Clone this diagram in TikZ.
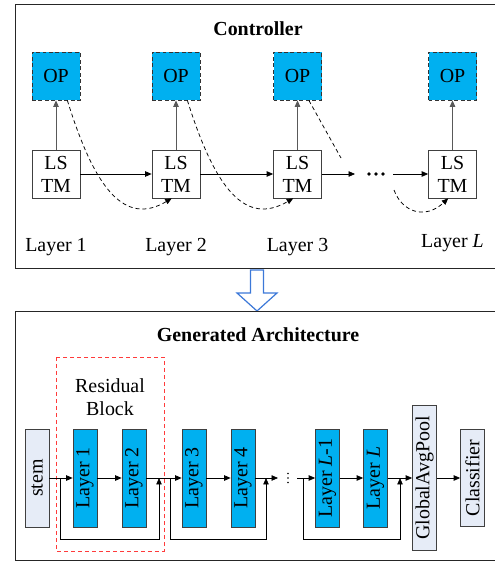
\documentclass[tikz,border=0pt]{standalone}
\usepackage{fontspec}
\setmainfont{Liberation Serif}
\usetikzlibrary{arrows.meta}
\definecolor{opblue}{HTML}{00B0F0}
\definecolor{boxgray}{HTML}{E6ECF7}
\definecolor{hollowblue}{HTML}{3C78D8}
\definecolor{resred}{HTML}{FF3B3B}

\begin{document}
\begin{tikzpicture}[x=1bp, y=-1bp, line width=0.75pt, >={Triangle[length=6.5pt,width=5.5pt]},
        font=\fontsize{20}{23}\selectfont,
        op/.style={draw=black!80, dash pattern=on 4pt off 2.5pt, fill=opblue, minimum size=48bp, inner sep=0pt},
        lstm/.style={draw=black!75, fill=white, minimum size=48bp, inner sep=0pt, align=center},
        layer/.style={draw=black!75, fill=opblue, rotate=90, minimum width=98bp, minimum height=24bp, inner sep=0pt},
        plain/.style={draw=black!75, fill=boxgray, rotate=90, minimum height=24bp, inner sep=0pt},
        dashline/.style={dash pattern=on 4pt off 3pt},
        frame/.style={draw=black!85}]
        \useasboundingbox (0,0) rectangle (495,561);

        % controller
        \draw[frame] (15,4) rectangle (497,268);
        \node (ctl) at (258,29) {\bfseries Controller};

        \node[op] (op1) at (56,76) {OP};
        \node[op] (op2) at (176,76) {OP};
        \node[op] (op3) at (297.5,76) {OP};
        \node[op] (op4) at (452.5,76) {OP};
        \node[lstm] (ls1) at (56,174) {LS\\TM};
        \node[lstm] (ls2) at (176,174) {LS\\TM};
        \node[lstm] (ls3) at (297.5,174) {LS\\TM};
        \node[lstm] (ls4) at (452.5,174) {LS\\TM};

        \node (lab1) at (56,247) {Layer 1};
        \node (lab2) at (176,247) {Layer 2};
        \node (lab3) at (297.5,247) {Layer 3};
        \node (lab4) at (452.5,243) {Layer \textit{L}};

        \draw[->, black!65] (ls1) -- (op1);
        \draw[->, black!65] (ls2) -- (op2);
        \draw[->, black!65] (ls3) -- (op3);
        \draw[->, black!65] (ls4) -- (op4);

        \coordinate (d1) at (355,174);
        \coordinate (d2) at (393,174);
        \node (dots) at (376,174) {};
        \foreach \dx in {-7,0,7}
          \fill ([xshift=\dx bp]dots.center) circle (1.8pt);
        \draw[->] (ls1) -- (ls2);
        \draw[->] (ls2) -- (ls3);
        \draw[->] (ls3) -- (d1);
        \draw[->] (d2) -- (ls4);

        \coordinate (e3) at (341,158);
        \coordinate (e4) at (394,190);
        \draw[->, dashline] (op1.-65) .. controls (95,190) and (125,226) .. (ls2.-100);
        \draw[->, dashline] (op2.-65) .. controls (215.5,190) and (245.5,226) .. (ls3.-100);
        \draw[dashline] (op3.-65) -- (e3);
        \draw[->, dashline] (e4) .. controls (402,212) and (425,220) .. (ls4.-100);

        % arrow between panels
        \draw[hollowblue, line width=1.2pt, fill=white] (250.5,270) -- (263.5,270) -- (263.5,293)
          -- (277,293) -- (257,311) -- (237,293) -- (250.5,293) -- cycle;

        % generated architecture
        \draw[frame] (15,311) rectangle (497,560);
        \node (gen) at (258,335) {\bfseries Generated Architecture};
        \draw[resred, dashline] (56,357) rectangle (164,551);
        \node[align=center] (res) at (110,397) {Residual\\Block};

        \node[plain, minimum width=98bp] (stem) at (37,478) {stem};
        \node[layer] (l1) at (85,478) {Layer 1};
        \node[layer] (l2) at (134,478) {Layer 2};
        \node[layer] (l3) at (194,478) {Layer 3};
        \node[layer] (l4) at (243,478) {Layer 4};
        \node[layer] (lm) at (327.5,478) {Layer \textit{L}-1};
        \node[layer] (ll) at (375.5,478) {Layer \textit{L}};
        \node[plain, minimum width=145bp] (gap) at (424.5,478) {GlobalAvgPool};
        \node[plain, minimum width=97bp] (cls) at (472.5,478) {Classifier};

        \coordinate (d3) at (278,478);
        \coordinate (d4) at (297,478);
        \node (vd) at (288,478) {};
        \foreach \dy in {-4.5,0,4.5}
          \fill ([yshift=\dy bp]vd.center) circle (0.9pt);
        \draw[->] (stem) -- (l1);
        \draw[->] (l1) -- (l2);
        \draw[->] (l2) -- (l3);
        \draw[->] (l3) -- (l4);
        \draw[->] (l4) -- (d3);
        \draw[->] (d4) -- (lm);
        \draw[->] (lm) -- (ll);
        \draw[->] (ll) -- (gap);
        \draw[->] (gap) -- (cls);

        \coordinate (s1) at (60,478);
        \coordinate (j1) at (159,478);
        \coordinate (s2) at (170,478);
        \coordinate (j2) at (266,478);
        \coordinate (s3) at (303,478);
        \coordinate (j3) at (400,478);
        \draw[->] (s1) -- ++(0,61) -| (j1);
        \draw[->] (s2) -- ++(0,61) -| (j2);
        \draw[->] (s3) -- ++(0,61) -| (j3);

\end{tikzpicture}
\end{document}
